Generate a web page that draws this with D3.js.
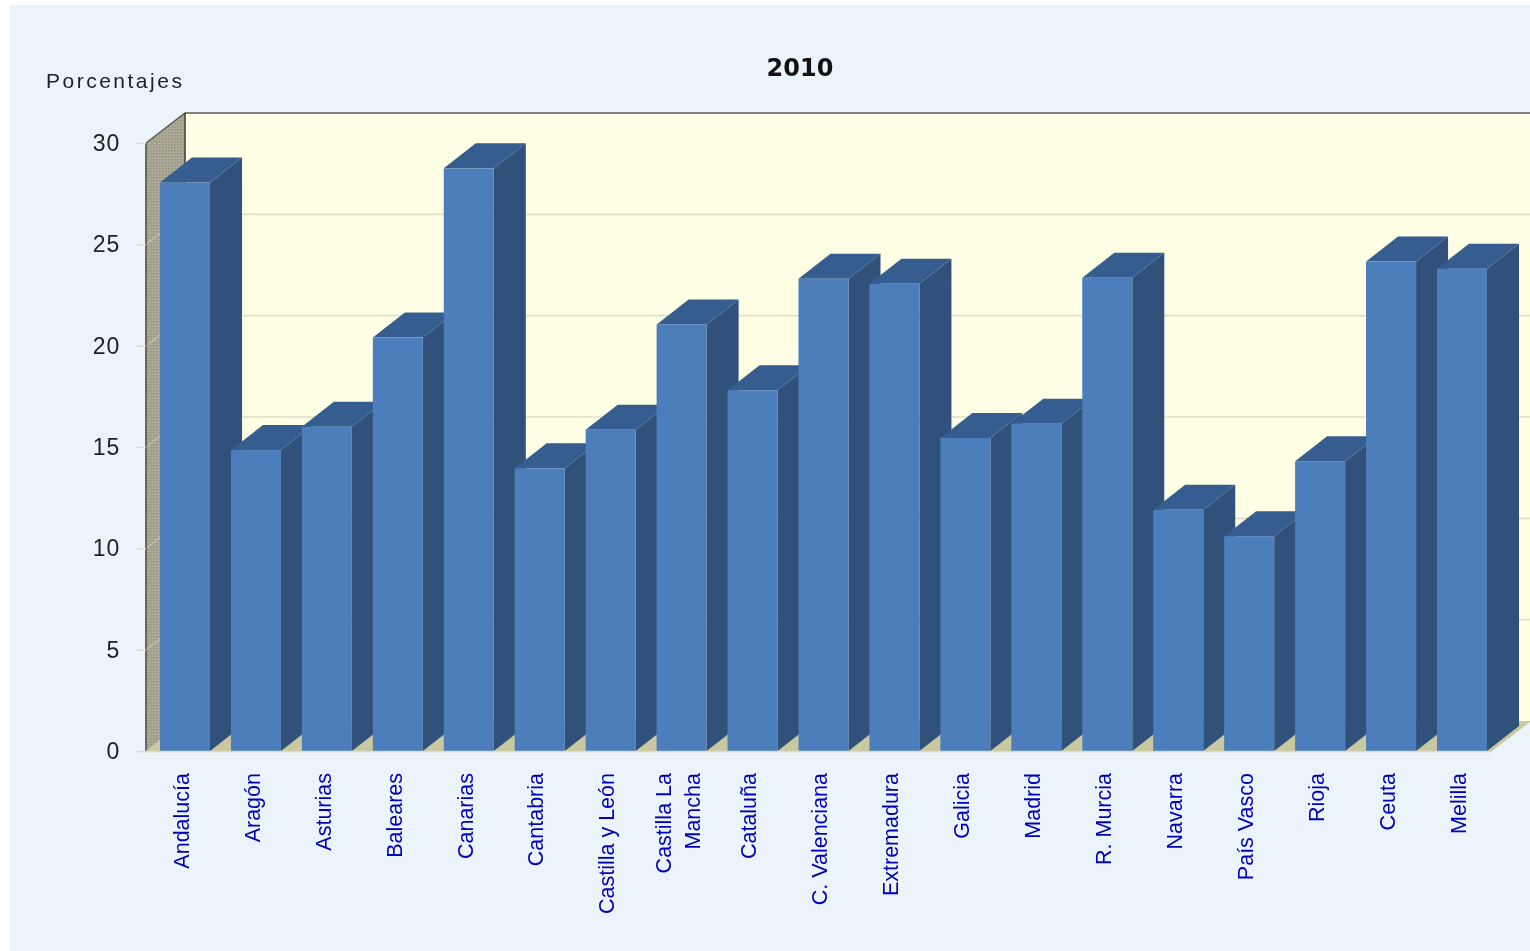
<!DOCTYPE html>
<html>
<head>
<meta charset="utf-8">
<script src="https://cdn.jsdelivr.net/npm/d3@7"></script>
<style>
  html, body { margin: 0; padding: 0; background: #fff; overflow: hidden; }
  svg { display: block; filter: blur(0.45px); }
</style>
</head>
<body>
<svg id="chart" width="1530" height="951"></svg>
<script>
const categories = ['Andalucía', 'Aragón', 'Asturias', 'Baleares', 'Canarias', 'Cantabria',
  'Castilla y León', 'Castilla La|Mancha', 'Cataluña', 'C. Valenciana', 'Extremadura', 'Galicia',
  'Madrid', 'R. Murcia', 'Navarra', 'País Vasco', 'Rioja', 'Ceuta', 'Melilla'];
const values = [28.05, 14.85, 16.0, 20.4, 28.75, 13.95, 15.85, 21.05, 17.8, 23.3, 23.05, 15.45,
  16.15, 23.35, 11.9, 10.6, 14.3, 24.15, 23.8];
const yTicks = [0, 5, 10, 15, 20, 25, 30];
const chartTitle = '2010';
const yTitle = 'Porcentajes';

document.addEventListener('DOMContentLoaded', () => {
  const svg = d3.select('#chart');

  const x = d3.scaleBand().domain(categories).range([160, 1487]).paddingInner(0.295);
  const y = d3.scaleLinear().domain([0, 30]).range([751, 143]);

  // depth of the 3d box and of the bars
  const wallX = 39, wallY = 30;
  const barX = 32, barY = 25;
  const left = 146, right = 1530;

  const poly = pts => pts.map(p => p.join(',')).join(' ');

  // dithered side wall, the source is a low colour gif
  const dither = svg.append('defs').append('pattern')
    .attr('id', 'dither')
    .attr('width', 3).attr('height', 3)
    .attr('patternUnits', 'userSpaceOnUse');
  dither.append('rect').attr('width', 3).attr('height', 3).attr('fill', '#aeac98');
  dither.append('rect').attr('width', 1.5).attr('height', 1.5).attr('fill', '#8f8e7c');

  svg.append('rect')
    .attr('x', 10).attr('y', 5).attr('width', 1520).attr('height', 946)
    .attr('fill', '#ebf3fb');

  /* BACK WALL, SIDE WALL, FLOOR */
  svg.append('rect')
    .attr('x', left + wallX).attr('y', y(30) - wallY)
    .attr('width', right - left - wallX).attr('height', y(0) - y(30))
    .attr('fill', '#ffffe6');

  svg.append('polygon')
    .attr('points', poly([[left, y(30)], [left + wallX, y(30) - wallY], [left + wallX, y(0) - wallY], [left, y(0)]]))
    .attr('fill', 'url(#dither)');

  svg.append('polygon')
    .attr('points', poly([[left, y(0)], [left + wallX, y(0) - wallY], [right, y(0) - wallY], [right, y(0) - wallY + 1], [1492, y(0)]]))
    .attr('fill', '#c9c8a0');

  const grid = svg.append('g').attr('class', 'grid-lines');
  grid.selectAll('line.back')
    .data(yTicks.filter(d => d > 0 && d < 30))
    .enter().append('line')
      .attr('class', 'back')
      .attr('x1', left + wallX).attr('x2', right)
      .attr('y1', d => y(d) - wallY).attr('y2', d => y(d) - wallY)
      .attr('stroke', '#dfdfc6').attr('stroke-width', 1.6);
  grid.selectAll('line.side')
    .data(yTicks.filter(d => d > 0 && d < 30))
    .enter().append('line')
      .attr('class', 'side')
      .attr('x1', left).attr('x2', left + wallX)
      .attr('y1', d => y(d)).attr('y2', d => y(d) - wallY)
      .attr('stroke', '#c4c3ae').attr('stroke-width', 1.2);

  // frame lines
  svg.append('path')
    .attr('d', `M${left},${y(30)}L${left + wallX},${y(30) - wallY}H${right}`)
    .attr('fill', 'none').attr('stroke', '#5c5c50').attr('stroke-width', 1.5);
  svg.append('line')
    .attr('x1', left + wallX).attr('x2', left + wallX)
    .attr('y1', y(30) - wallY).attr('y2', y(0) - wallY)
    .attr('stroke', '#3c3c34').attr('stroke-width', 1.5);
  svg.append('line')
    .attr('x1', left).attr('x2', left)
    .attr('y1', y(30)).attr('y2', y(0))
    .attr('stroke', '#6a6a5c').attr('stroke-width', 2);

  /* BARS */
  const bars = svg.append('g').attr('class', 'bars')
    .selectAll('g')
    .data(categories.map((c, i) => ({ c, v: values[i] })))
    .enter().append('g');

  bars.append('polygon')
    .attr('fill', '#30527a')
    .attr('points', d => {
      const xr = x(d.c) + x.bandwidth();
      return poly([[xr, y(d.v)], [xr + barX, y(d.v) - barY], [xr + barX, y(0) - barY], [xr, y(0)]]);
    });

  bars.append('polygon')
    .attr('fill', '#355d90')
    .attr('points', d => {
      const xl = x(d.c), xr = xl + x.bandwidth();
      return poly([[xl, y(d.v)], [xl + barX, y(d.v) - barY], [xr + barX, y(d.v) - barY], [xr, y(d.v)]]);
    });

  bars.append('rect')
    .attr('fill', '#4d7ebc')
    .attr('x', d => x(d.c))
    .attr('y', d => y(d.v))
    .attr('width', x.bandwidth())
    .attr('height', d => y(0) - y(d.v));

  /* AXES */
  const yAxis = svg.append('g')
    .attr('class', 'axis axis--y')
    .attr('transform', `translate(${left},0)`)
    .call(d3.axisLeft(y).tickValues(yTicks).tickSize(9).tickPadding(17));
  yAxis.select('.domain').remove();
  yAxis.selectAll('line').attr('stroke', '#dcdcc0').attr('stroke-width', 1.5);
  yAxis.selectAll('text')
    .attr('font-family', '"Liberation Sans", Arial, sans-serif')
    .attr('font-size', 23).attr('fill', '#222')
    .attr('letter-spacing', 0.8);

  svg.append('line')
    .attr('x1', 137).attr('x2', 1492)
    .attr('y1', y(0) + 0.5).attr('y2', y(0) + 0.5)
    .attr('stroke', '#dcdcc0').attr('stroke-width', 1.5);

  const xAxis = svg.append('g')
    .attr('class', 'axis axis--x')
    .attr('transform', `translate(0,${y(0)})`)
    .call(d3.axisBottom(x).tickSize(0).tickFormat(''));
  xAxis.select('.domain').remove();

  xAxis.selectAll('.tick text').each(function (d) {
    const lines = d.split('|');
    const t = d3.select(this)
      .attr('transform', 'translate(-4,22) rotate(-90)')
      .attr('x', 0).attr('y', 0)
      .attr('dy', null)
      .attr('text-anchor', 'end')
      .attr('font-family', '"Liberation Sans", Arial, sans-serif')
      .attr('font-size', 21.5)
      .attr('fill', '#0000b8');
    lines.forEach((line, i) => {
      t.append('tspan')
        .attr('x', 0)
        .attr('y', (i - (lines.length - 1) / 2) * 29)
        .attr('dy', '0.36em')
        .text(line);
    });
  });

  /* TITLES */
  svg.append('text')
    .attr('x', 800).attr('y', 76)
    .attr('text-anchor', 'middle')
    .attr('font-family', '"DejaVu Sans", sans-serif')
    .attr('font-weight', 'bold')
    .attr('font-size', 24)
    .attr('fill', '#111')
    .text(chartTitle);

  svg.append('text')
    .attr('x', 46).attr('y', 88)
    .attr('font-family', '"Liberation Sans", Arial, sans-serif')
    .attr('font-size', 21)
    .attr('letter-spacing', 2.5)
    .attr('fill', '#222')
    .text(yTitle);
});
</script>
</body>
</html>
